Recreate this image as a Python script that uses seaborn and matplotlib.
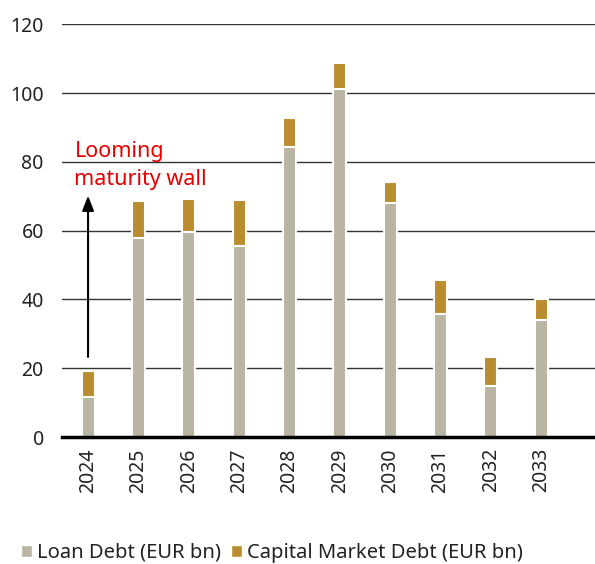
import numpy as np
import pandas as pd
import matplotlib
matplotlib.use("Agg")
import matplotlib.pyplot as plt
import seaborn as sns
from matplotlib.patches import Patch

# ==== Datos ====
years = ["2024", "2025", "2026", "2027", "2028", "2029", "2030", "2031", "2032", "2033"]
loan_debt = [11.7, 58.0, 59.6, 55.6, 84.3, 101.2, 68.0, 35.8, 14.8, 34.0]
capital_market_debt = [7.6, 10.6, 9.6, 13.3, 8.4, 7.6, 6.1, 9.9, 8.5, 6.1]
yticks = [0, 20, 40, 60, 80, 100, 120]

LOAN_COLOR = "#BAB4A3"
CM_COLOR = "#B98D2F"
RED = "#E60000"

sns.set_style("white")
plt.rcParams["font.family"] = ["Noto Sans", "DejaVu Sans"]

df = pd.DataFrame({"Year": years, "Loan": loan_debt, "CM": capital_market_debt})
df["Total"] = df["Loan"] + df["CM"]

fig = plt.figure(figsize=(5.95, 5.64), dpi=100)
ax = fig.add_axes([0.104, 0.225, 0.896, 0.732])

# barras apiladas: total detras (dorado), prestamos delante (gris)
sns.barplot(data=df, x="Year", y="Total", color=CM_COLOR, saturation=1,
            width=0.26, edgecolor="white", linewidth=1.5, ax=ax, zorder=3)
sns.barplot(data=df, x="Year", y="Loan", color=LOAN_COLOR, saturation=1,
            width=0.26, edgecolor="white", linewidth=1.5, ax=ax, zorder=4)

ax.set_ylim(0, 120)
ax.set_xlim(-0.52, 10.07)
ax.set_yticks(yticks)
ax.yaxis.grid(True, color="#333333", linewidth=1.0, zorder=0)
ax.set_axisbelow(True)
for s in ["top", "right", "left"]:
    ax.spines[s].set_visible(False)
ax.spines["bottom"].set_linewidth(2.5)
ax.spines["bottom"].set_color("black")
ax.spines["bottom"].set_zorder(5)
ax.tick_params(axis="both", length=0, labelsize=14, colors="#222222")
ax.tick_params(axis="x", pad=8)
ax.tick_params(axis="y", pad=13)
plt.setp(ax.get_xticklabels(), rotation=90)
ax.set_xlabel("")
ax.set_ylabel("")

# flecha y texto
ax.annotate("", xy=(0, 71), xytext=(0, 22.5),
            arrowprops=dict(arrowstyle="-|>,head_length=0.9,head_width=0.35",
                            color="black", lw=1.5), zorder=6)
ax.text(-0.27, 86.0, "Looming\nmaturity wall", color=RED, fontsize=15.5,
        va="top", ha="left", linespacing=1.4, zorder=6)

handles = [Patch(facecolor=LOAN_COLOR, label="Loan Debt (EUR bn)"),
           Patch(facecolor=CM_COLOR, label="Capital Market Debt (EUR bn)")]
fig.legend(handles=handles, loc="lower left", bbox_to_anchor=(0.005, -0.03),
           ncol=2, frameon=False, fontsize=14.5, handlelength=0.55, handleheight=0.55,
           handletextpad=0.25, columnspacing=0.5, labelcolor="#222222")

fig.savefig("out.png", dpi=100)
plt.close(fig)
